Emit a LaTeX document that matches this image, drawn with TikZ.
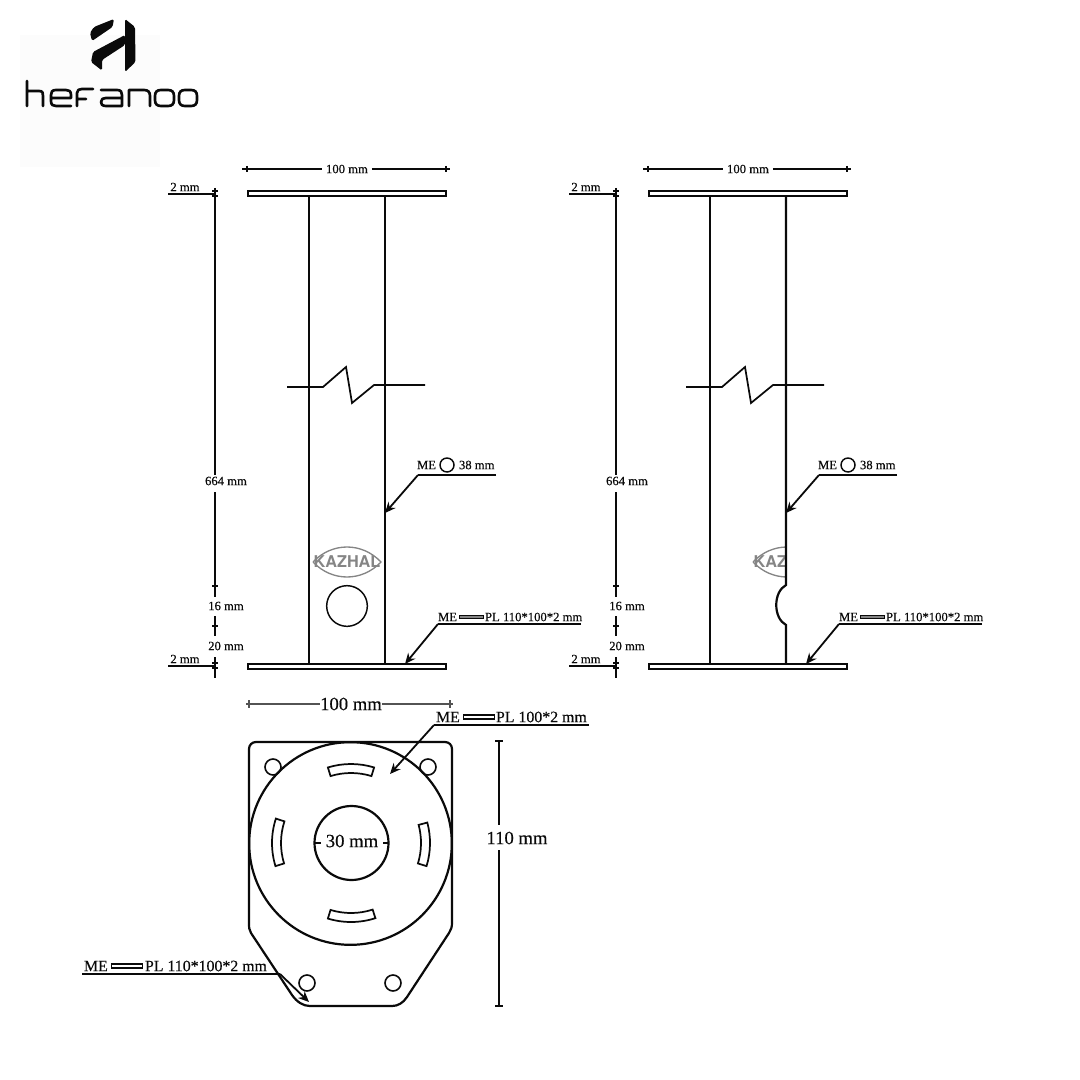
\documentclass[tikz,border=0pt]{standalone}
\usepackage{fontspec}
\setmainfont[FakeBold=0.35]{Liberation Serif}
\newfontfamily\kazfont{TeX Gyre Heros}
\usetikzlibrary{arrows.meta,calc}
\definecolor{ink}{HTML}{0A0A0A}
\definecolor{logobg}{HTML}{FCFCFC}
\definecolor{kaz}{HTML}{858585}
\tikzset{
  ln/.style={draw=ink,line width=1.65pt,line join=miter},
  thn/.style={draw=ink,line width=1.3pt},
  ldr/.style={draw=ink,line width=1.35pt,-{Stealth[length=8pt,width=7pt]}},
  lbl/.style={inner sep=0pt,outer sep=0pt,text=ink,font=\fontsize{9.5pt}{10pt}\selectfont},
  lblm/.style={inner sep=0pt,outer sep=0pt,text=ink,font=\fontsize{11.9pt}{12pt}\selectfont},
  lblb/.style={inner sep=0pt,outer sep=0pt,text=ink,font=\fontsize{14pt}{14pt}\selectfont},
  logost/.style={draw=ink,line width=2.2pt,line cap=round,line join=round},
  kazst/.style={inner sep=0pt,text=kaz,font=\kazfont\bfseries\fontsize{12.2pt}{13pt}\selectfont},
  lens/.style={draw=kaz,line width=1pt}
}
% one side elevation: #1 name prefix, #2 zigzag shift
\newcommand{\ColumnView}[2]{%
  \draw[ln] (248,191) rectangle (446,196);
  \draw[ln] (248,664) rectangle (446,669);
  \draw[ln] (309,196) -- (309,664);
  % zigzag
  \begin{scope}[xshift=#2]
  \draw[ln,line width=1.3pt] (287,387) -- (323,387) -- (346,367) -- (352,403) -- (374,385) -- (425,385);
  \end{scope}
  % top dimension
  \node[lbl] (#1w) at (347,169) {100 mm};
  \coordinate (#1wl) at (242,169); \coordinate (#1wr) at (450,169);
  \draw[thn] (#1wl) -- ($(#1w.west)+(-4,0)$);
  \draw[thn] ($(#1w.east)+(4,0)$) -- (#1wr);
  \draw[thn,line width=1pt] (247,166) -- (247,172) (446,166) -- (446,172);
  % 2 mm top
  \node[lbl] (#1ta) at (185,187) {2 mm};
  \coordinate (#1tb) at (168,194); \coordinate (#1tc) at (215,194);
  \draw[thn] (#1tb) -- (#1tc);
  % vertical chain
  \node[lbl] (#1h) at (226,481) {664 mm};
  \node[lbl] (#1s) at (226,606) {16 mm};
  \node[lbl] (#1t) at (226,646) {20 mm};
  \coordinate (#1va) at (215,188); \coordinate (#1vz) at (215,678);
  \draw[thn] (#1va) -- (215,475) (215,492) -- (215,597) (215,616) -- (215,636) (215,657) -- (#1vz);
  \draw[thn,line width=1pt] (212,191) -- (218,191) (212,196) -- (218,196) (212,586) -- (218,586)
             (212,626) -- (218,626) (212,663) -- (218,663) (212,668) -- (218,668);
  % 2 mm bottom
  \node[lbl] (#1bb) at (185,659) {2 mm};
  \coordinate (#1bc) at (168,666); \coordinate (#1bd) at (215,666);
  \draw[thn] (#1bc) -- (#1bd);
  % ME circle 38 mm
  \node[lbl,anchor=west] (#1me) at (417,465) {ME};
  \node[draw=ink,line width=1.1pt,circle,minimum size=10.5pt,inner sep=0pt] (#1rd) at (447,465) {};
  \node[lbl,anchor=west] (#1dia) at (459,465) {38 mm};
  \coordinate (#1la) at (496,475); \coordinate (#1lb) at (418,475); \coordinate (#1lc) at (385,513);
  \draw[thn] (#1la) -- (#1lb);
  \draw[ldr] (#1lb) -- (#1lc);
  % ME PL
  \node[lbl,anchor=west] (#1mp) at (438,617) {ME};
  \node[draw=ink,line width=.8pt,fill=kaz,minimum width=18pt,minimum height=2.6pt,inner sep=0pt] (#1pl) at (471.5,617) {};
  \node[lbl,anchor=west] (#1pt) at (485,617) {PL 110*100*2 mm};
  \coordinate (#1ma) at (581,624); \coordinate (#1mb) at (438,624); \coordinate (#1mc) at (405,664);
  \draw[thn] (#1ma) -- (#1mb);
  \draw[ldr] (#1mb) -- (#1mc);
}
\begin{document}
\begin{tikzpicture}[x=.75pt,y=-.75pt]
\useasboundingbox (0,0) rectangle (1080,1080);
% logo
\fill[logobg] (20,35) rectangle (160,167);
\fill[ink,rounded corners=1.2pt] (114,19) -- (112.5,27) -- (92,41) -- (90,33) -- (94,27) -- cycle;
\fill[ink,rounded corners=1.2pt] (125,19) -- (135,27) -- (135.5,62) -- (125,72) -- cycle;
\fill[ink,rounded corners=1.2pt] (125,35) -- (93,52) -- (91,62) -- (102,70.5) -- (102,60) -- (125,45) -- cycle;
\draw[logost,line width=2pt] (27,81) -- (27,106) (27,91) -- (39,91) .. controls (43,91) and (43,93) .. (43,96) -- (43,106);
\draw[logost,line width=2pt] (51,98) -- (71,98) -- (71,95) .. controls (71,91) and (69,90) .. (66,90) -- (56,90) .. controls (52,90) and (51,92) .. (51,95) -- (51,101) .. controls (51,105) and (53,106) .. (56,106) -- (71,106);
\draw[logost,line width=2pt] (77,106) -- (77,93) .. controls (77,90) and (79,89) .. (82,89) -- (93,89) (77,99) -- (86,99);
\draw[logost,line width=2pt] (101,90) -- (117,90) .. controls (121,90) and (122,92) .. (122,95) -- (122,106) -- (106,106) .. controls (102,106) and (101,104) .. (101,102) .. controls (101,99) and (103,98) .. (106,98) -- (122,98);
\draw[logost,line width=2pt] (129,106) -- (129,90) -- (144,90) .. controls (148,90) and (150,92) .. (150,96) -- (150,106);
\draw[logost,line width=2pt] (155,96) .. controls (155,92) and (157,90) .. (161,90) -- (168,90) .. controls (172,90) and (174,92) .. (174,96) -- (174,100) .. controls (174,104) and (172,106) .. (168,106) -- (161,106) .. controls (157,106) and (155,104) .. (155,100) -- cycle;
\draw[logost,line width=2pt] (179,96) .. controls (179,92) and (181,90) .. (185,90) -- (191,90) .. controls (195,90) and (197,92) .. (197,96) -- (197,100) .. controls (197,104) and (195,106) .. (191,106) -- (185,106) .. controls (181,106) and (179,104) .. (179,100) -- cycle;
% left elevation
\ColumnView{a}{0pt}
\draw[ln] (385,196) -- (385,664);
\node[kazst] (akz) at (347,561.5) {KAZHAL};
\draw[lens] (313,562) .. controls (332,542) and (362,542) .. (381,562) .. controls (362,582) and (332,582) .. (313,562);
\node[draw=ink,line width=1.1pt,circle,minimum size=30.5pt,inner sep=0pt] (ahole) at (347,606) {};
% right elevation
\begin{scope}[xshift=300.75pt]
\ColumnView{b}{-1.5pt}
\begin{scope}
\clip (300,530) rectangle (384,590);
\node[kazst] (bkz) at (386,561.5) {KAZHAL};
\draw[lens] (352,562) .. controls (371,542) and (401,542) .. (420,562) .. controls (401,582) and (371,582) .. (352,562);
\end{scope}
\draw[ln] (385,196) -- (385,585) .. controls (372,592) and (372,618) .. (385,625) -- (385,664);
\end{scope}
% plan view
\node[lblb] (cw) at (351,704) {100 mm};
\coordinate (cwl) at (246,704); \coordinate (cwr) at (453,704);
\draw[draw=ink!70,line width=.9pt] (cwl) -- (cw.west) (cw.east) -- (cwr);
\draw[draw=ink!70,line width=.9pt] (249,700) -- (249,708) (450,700) -- (450,708);
\draw[ln] (256,742) -- (445,742) .. controls (449,742) and (452,745) .. (452,749) -- (452,923)
  .. controls (452,927) and (451,930) .. (449,933) -- (407,997)
  .. controls (403,1003) and (398,1006) .. (392,1006) -- (310,1006) .. controls (303,1006) and (297,1002) .. (292,995)
  -- (251,933) .. controls (249,930) and (249,927) .. (249,923) -- (249,749) .. controls (249,745) and (252,742) .. (256,742) -- cycle;
\node[draw=ink,line width=1.65pt,circle,minimum size=152pt,inner sep=0pt] (cbig) at (350.5,843.5) {};
\node[draw=ink,line width=1.65pt,circle,minimum size=55.5pt,inner sep=0pt] (cin) at (351.5,843) {};
\node[lblb] (cdia) at (352,841) {30 mm};
\draw[thn] (314,843) -- (321,843) (383,843) -- (389,843);
\foreach \n/\x/\y in {p1/273/767,p2/428/767,p3/307/983,p4/393/983}
  \node[draw=ink,line width=1.2pt,circle,minimum size=12pt,inner sep=0pt] (\n) at (\x,\y) {};
% slots
\foreach \a/\b in {73/107,162/197,-17/15,253/288}{
  \draw[ln,line width=1.3pt] ($(351,843)+({79*cos(\a)},{-79*sin(\a)})$)
     arc[start angle=-\a,end angle=-\b,radius=79]
     -- ($(351,843)+({70*cos(\b)},{-70*sin(\b)})$)
     arc[start angle=-\b,end angle=-\a,radius=70] -- cycle;
}
% 110 mm
\node[lblb] (ch) at (517,838) {110 mm};
\coordinate (cha) at (499,740); \coordinate (chb) at (499,1006);
\draw[thn] (cha) -- (499,825) (499,850) -- (chb);
\draw[thn] (495,741) -- (503,741) (495,1006) -- (503,1006);
% ME PL 100*2
\node[lblm,anchor=west] (dme) at (436,717) {ME};
\node[draw=ink,line width=.8pt,minimum width=23pt,minimum height=3pt,inner sep=0pt] (dpl) at (479,717) {};
\node[lblm,anchor=west] (dpt) at (496,717) {PL 100*2 mm};
\coordinate (dla) at (589,725); \coordinate (dlb) at (434,725); \coordinate (dlc) at (390,774);
\draw[thn] (dla) -- (dlb);
\draw[ldr] (dlb) -- (dlc);
% ME PL 110*100*2
\node[lblm,anchor=west] (eme) at (84,966) {ME};
\node[draw=ink,line width=.8pt,minimum width=23pt,minimum height=3pt,inner sep=0pt] (epl) at (127,966) {};
\node[lblm,anchor=west] (ept) at (145,966) {PL 110*100*2 mm};
\coordinate (ela) at (82,974); \coordinate (elb) at (280,974); \coordinate (elc) at (309,1002);
\draw[thn] (ela) -- (elb);
\draw[ldr] (elb) -- (elc);
\end{tikzpicture}
\end{document}
